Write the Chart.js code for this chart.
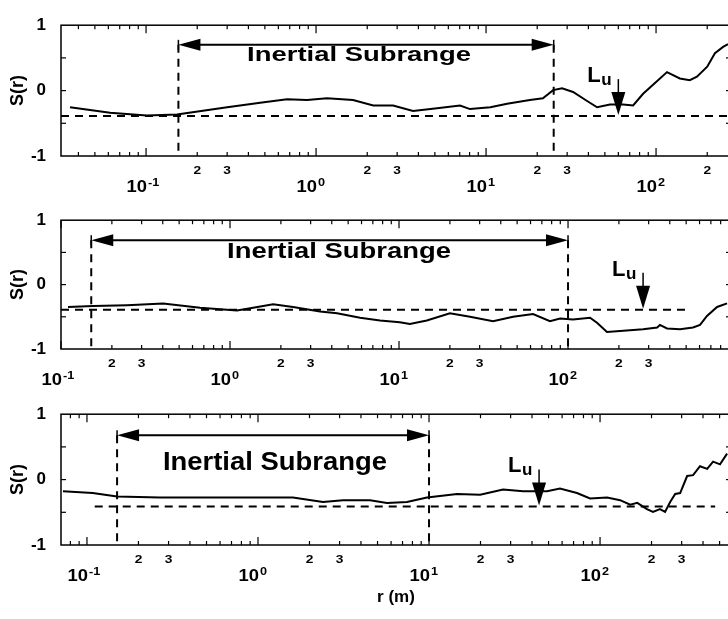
<!DOCTYPE html>
<html>
<head>
<meta charset="utf-8">
<script src="https://cdn.jsdelivr.net/npm/chart.js@4.4.1/dist/chart.umd.min.js"></script>
<style>
  html, body { margin: 0; padding: 0; background: #fff; overflow: hidden; width: 728px; height: 619px; }
  canvas { position: absolute; left: 0; }
</style>
</head>
<body>
<canvas id="c1" width="740" height="200" style="top:0px"></canvas>
<canvas id="c2" width="740" height="200" style="top:195px"></canvas>
<canvas id="c3" width="740" height="230" style="top:389px"></canvas>
<script>
// separation r (m) and structure function S(r), one pair per panel
const r1 = [0.0357, 0.0614, 0.101, 0.152, 0.30, 0.469, 0.675, 0.885, 1.16, 1.65, 2.17, 2.84, 3.72, 5.15, 7.03, 8.05, 10.6, 13.3, 18.1, 21.6, 24.8, 28.0, 32.5, 39.3, 45.0, 53.6, 64.0, 73.3, 83.9, 96.0, 116, 138, 158, 174, 200, 222, 248, 265];
const s1 = [-0.255, -0.338, -0.379, -0.366, -0.255, -0.186, -0.131, -0.145, -0.117, -0.145, -0.228, -0.228, -0.31, -0.269, -0.228, -0.283, -0.255, -0.2, -0.145, -0.117, 0.007, 0.034, -0.021, -0.159, -0.255, -0.214, -0.214, -0.228, -0.048, 0.09, 0.283, 0.186, 0.159, 0.214, 0.366, 0.572, 0.669, 0.71];

const r2 = [0.110, 0.155, 0.246, 0.402, 0.665, 1.10, 1.37, 1.80, 2.36, 3.41, 4.30, 5.88, 7.72, 10.1, 11.6, 14.6, 20.0, 26.3, 36.0, 47.3, 62.1, 78.2, 89.7, 107, 135, 149, 170, 203, 278, 337, 350, 385, 460, 549, 604, 664, 762, 873];
const s2 = [-0.347, -0.333, -0.319, -0.292, -0.361, -0.403, -0.361, -0.306, -0.347, -0.417, -0.444, -0.514, -0.556, -0.583, -0.611, -0.556, -0.444, -0.5, -0.569, -0.5, -0.458, -0.569, -0.528, -0.542, -0.514, -0.597, -0.736, -0.722, -0.694, -0.667, -0.625, -0.681, -0.694, -0.667, -0.625, -0.486, -0.347, -0.292];

const r3 = [0.0724, 0.108, 0.150, 0.267, 0.524, 1.03, 1.60, 2.40, 3.14, 4.52, 5.68, 7.43, 9.73, 14.6, 19.9, 27.1, 35.5, 49.0, 58.3, 73.3, 87.4, 110, 131, 150, 165, 188, 204, 224, 240, 257, 275, 294, 323, 350, 384, 423, 458, 503, 553];
const s3 = [-0.178, -0.205, -0.26, -0.274, -0.274, -0.274, -0.274, -0.342, -0.315, -0.315, -0.356, -0.342, -0.274, -0.219, -0.233, -0.151, -0.178, -0.178, -0.137, -0.205, -0.288, -0.274, -0.315, -0.384, -0.356, -0.452, -0.493, -0.452, -0.493, -0.342, -0.219, -0.205, 0.055, 0.068, 0.205, 0.164, 0.274, 0.233, 0.397];

// x extent of each panel (m)
const xRange1 = [0.0316, 276];
const xRange2 = [0.1, 921];
const xRange3 = [0.0705, 583];

// inertial subrange limits (m), integral scale Lu (m), reference level
const subrange1 = [0.155, 25];
const subrange2 = [0.151, 100];
const subrange3 = [0.150, 10];
const luValues = [60, 278, 44];
const refLevels = [-0.39, -0.39, -0.41];

// ticks
const yTickValues = [-1, 0, 1];
const yMinorTicks = [-0.5, 0, 0.5];
const labelledDigits = [2, 3];

const FONT = '"Liberation Sans", Arial, Helvetica, sans-serif';

function txt(ctx, s, x, y, size, sx, align, base) {
    ctx.save();
    ctx.font = 'bold ' + size + 'px ' + FONT;
    ctx.textAlign = align || 'center';
    ctx.textBaseline = base || 'middle';
    ctx.translate(x, y);
    ctx.scale(sx, 1);
    ctx.fillText(s, 0, 0);
    ctx.restore();
}

function line(ctx, x0, y0, x1, y1) {
    ctx.beginPath();
    ctx.moveTo(x0, y0);
    ctx.lineTo(x1, y1);
    ctx.stroke();
}

// frame, inward ticks, log labels and the annotations
const figurePlugin = {
    id: 'figure',
    afterDatasetsDraw(chart, args, o) {
        const { ctx, chartArea: a, scales: { x, y } } = chart;
        ctx.save();
        ctx.strokeStyle = '#000';
        ctx.fillStyle = '#000';

        ctx.lineWidth = 1.5;
        ctx.strokeRect(a.left, a.top, a.right - a.left, a.bottom - a.top);

        const lo = Math.floor(Math.log10(x.min)), hi = Math.ceil(Math.log10(x.max));
        for (let d = lo; d <= hi; d++) {
            for (let k = 1; k <= 9; k++) {
                const v = k * Math.pow(10, d);
                if (v < x.min * 0.999 || v > x.max) continue;
                const px = x.getPixelForValue(v);
                const len = k === 1 ? 8 : 4;
                ctx.lineWidth = 1.2;
                line(ctx, px, a.bottom, px, a.bottom - len);
                line(ctx, px, a.top, px, a.top + len);
                if (labelledDigits.includes(k)) txt(ctx, String(k), px, a.bottom + 15, 11, 1.25);
                if (k === 1) {
                    txt(ctx, '10', px + 1, a.bottom + 32, 16, 1.15, 'right');
                    txt(ctx, String(d), px + 2, a.bottom + 27, 11, 1.15, 'left');
                }
            }
        }
        for (const v of yMinorTicks) {
            const py = y.getPixelForValue(v);
            line(ctx, a.left, py, a.left + 5, py);
            line(ctx, a.right, py, a.right - 5, py);
        }

        // dashed reference level and subrange limits
        ctx.lineWidth = 2;
        ctx.setLineDash([8, 6]);
        const ly = y.getPixelForValue(o.level);
        const lx0 = o.levelFrom ? x.getPixelForValue(o.levelFrom) : a.left;
        const lx1 = o.levelTo ? x.getPixelForValue(o.levelTo) : a.right;
        line(ctx, lx0, ly, lx1, ly);
        const ay = y.getPixelForValue(o.arrowAt);
        const x0 = x.getPixelForValue(o.subrange[0]);
        const x1 = x.getPixelForValue(o.subrange[1]);
        line(ctx, x0, ay, x0, a.bottom);
        line(ctx, x1, ay, x1, a.bottom);
        ctx.setLineDash([]);

        // double arrow
        line(ctx, x0 + 18, ay, x1 - 18, ay);
        for (const [tx, dir] of [[x0, 1], [x1, -1]]) {
            ctx.beginPath();
            ctx.moveTo(tx, ay);
            ctx.lineTo(tx + dir * 22, ay - 6);
            ctx.lineTo(tx + dir * 22, ay + 6);
            ctx.closePath();
            ctx.fill();
            ctx.lineWidth = 1.5;
            line(ctx, tx, ay - 5, tx, ay + 5);
        }

        ctx.font = 'bold ' + o.textSize + 'px ' + FONT;
        const w = ctx.measureText('Inertial Subrange').width;
        txt(ctx, 'Inertial Subrange', x.getPixelForValue(o.textAt[0]), y.getPixelForValue(o.textAt[1]),
            o.textSize, 224 / w, 'left', 'alphabetic');

        // Lu marker
        const ux = x.getPixelForValue(o.lu), uy = ly - 1;
        ctx.lineWidth = 1.5;
        line(ctx, ux, uy - 36, ux, uy - 22);
        ctx.beginPath();
        ctx.moveTo(ux, uy);
        ctx.lineTo(ux - 7, uy - 23);
        ctx.lineTo(ux + 7, uy - 23);
        ctx.closePath();
        ctx.fill();
        txt(ctx, 'L', ux - 31, uy - 33, 22, 1.0, 'left', 'alphabetic');
        txt(ctx, 'u', ux - 17, uy - 30, 17, 1.0, 'left', 'alphabetic');

        ctx.restore();
    }
};

function makePanel(id, r, s, range, bottomSpace, topPad, showTitle, fig) {
    return new Chart(document.getElementById(id), {
        type: 'line',
        data: {
            datasets: [{
                data: r.map((v, i) => ({ x: v, y: s[i] })),
                borderColor: '#000',
                borderWidth: 2,
                pointRadius: 0,
                fill: false,
                tension: 0
            }]
        },
        options: {
            responsive: false,
            animation: false,
            layout: { padding: { top: topPad, right: 9, left: 0, bottom: 0 } },
            scales: {
                x: {
                    type: 'logarithmic',
                    min: range[0],
                    max: range[1],
                    ticks: { display: false },
                    grid: { display: false, drawTicks: false },
                    border: { display: false },
                    title: {
                        display: showTitle,
                        text: 'r (m)',
                        color: '#000',
                        font: { family: FONT, size: 17, weight: 'bold' },
                        padding: { top: 0, bottom: 11 }
                    },
                    afterFit: (scale) => { scale.height = bottomSpace; }
                },
                y: {
                    min: -1,
                    max: 1,
                    afterBuildTicks: (scale) => { scale.ticks = yTickValues.map(v => ({ value: v })); },
                    ticks: {
                        color: '#000',
                        padding: 15,
                        font: { family: FONT, size: 17, weight: 'bold' },
                        callback: (v) => String(v)
                    },
                    grid: { display: false, drawTicks: false },
                    border: { display: false },
                    title: {
                        display: true,
                        text: 'S(r)',
                        color: '#000',
                        font: { family: FONT, size: 18, weight: 'bold' },
                        padding: { top: 7, bottom: 0 }
                    },
                    afterFit: (scale) => { scale.width = 61; }
                }
            },
            plugins: {
                legend: { display: false },
                tooltip: { enabled: false },
                figure: fig
            }
        },
        plugins: [figurePlugin]
    });
}

makePanel('c1', r1, s1, xRange1, 44, 11, false, {
    level: refLevels[0], subrange: subrange1, arrowAt: 0.7, lu: luValues[0],
    textAt: [0.393, 0.46], textSize: 20
});
makePanel('c2', r2, s2, xRange2, 46, 10, false, {
    level: refLevels[1], levelTo: 492, subrange: subrange2, arrowAt: 0.69, lu: luValues[1],
    textAt: [0.96, 0.42], textSize: 22
});
makePanel('c3', r3, s3, xRange3, 74, 10, true, {
    level: refLevels[2], levelFrom: 0.111, levelTo: 471, subrange: subrange3, arrowAt: 0.68, lu: luValues[2],
    textAt: [0.278, 0.15], textSize: 26
});
</script>
</body>
</html>
